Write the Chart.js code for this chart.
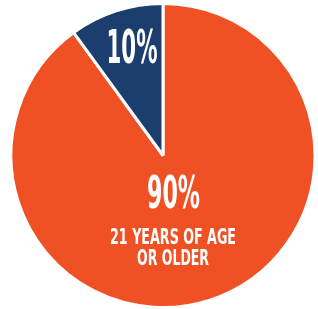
<!DOCTYPE html>
<html>
<head>
<meta charset="utf-8">
<script src="https://cdn.jsdelivr.net/npm/chart.js@4/dist/chart.umd.min.js"></script>
<style>
  html, body { margin: 0; padding: 0; background: #fff; }
  #wrap { width: 318px; height: 309px; }
</style>
</head>
<body>
<div id="wrap"><canvas id="pie-chart"></canvas></div>
<script>
const labels = ["21 years of age or older", "Under 21"];
const shares = [90, 10];
const colors = ["#f05124", "#1b3e6f"];

// captions drawn on the slices: text lines, offset from pie centre (in radius units), target width
const sliceText = [
    [{ text: "90%", dx: 0.069, dy: 0.345, size: 44, width: 53 },
     { text: "21 YEARS OF AGE", dx: 0.066, dy: 0.582, size: 22, width: 126 },
     { text: "OR OLDER", dx: 0.066, dy: 0.722, size: 21, width: 72 }],
    [{ text: "10%", dx: -0.204, dy: -0.609, size: 46, width: 51 }]
];

const captions = {
    id: "captions",
    afterDatasetsDraw(chart) {
        const ctx = chart.ctx;
        const arcs = chart.getDatasetMeta(0).data;
        arcs.forEach((arc, i) => {
            const r = arc.outerRadius;
            sliceText[i].forEach(t => {
                ctx.save();
                ctx.font = "bold " + t.size + "px 'Liberation Sans Narrow', 'DejaVu Sans Condensed', sans-serif";
                ctx.fillStyle = "#fff";
                ctx.textAlign = "center";
                ctx.textBaseline = "alphabetic";
                const w = ctx.measureText(t.text).width;
                ctx.translate(arc.x + t.dx * r, arc.y + t.dy * r);
                ctx.scale(t.width / w, 1);
                ctx.fillText(t.text, 0, 0);
                ctx.restore();
            });
        });
    }
};

new Chart(document.getElementById("pie-chart"), {
    type: 'pie',
    data: {
        labels: labels,
        datasets: [{
            data: shares,
            backgroundColor: colors,
            borderColor: "#fff",
            borderWidth: 3
        }]
    },
    options: {
        responsive: true,
        maintainAspectRatio: false,
        animation: false,
        layout: { padding: { left: 8, right: 0, top: 2, bottom: 0 } },
        plugins: {
            legend: { display: false },
            tooltip: { enabled: false }
        }
    },
    plugins: [captions]
});
</script>
</body>
</html>
